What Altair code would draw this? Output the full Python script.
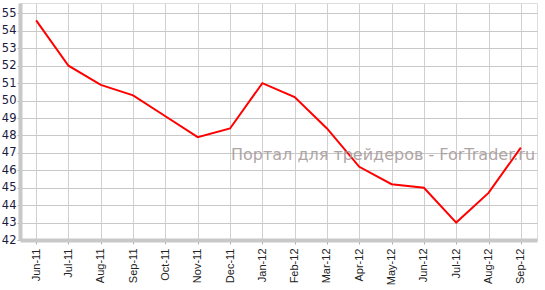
import altair as alt
import pandas as pd

months = ["Jun-11", "Jul-11", "Aug-11", "Sep-11", "Oct-11", "Nov-11", "Dec-11", "Jan-12",
          "Feb-12", "Mar-12", "Apr-12", "May-12", "Jun-12", "Jul-12", "Aug-12", "Sep-12"]
values = [54.6, 52.0, 50.9, 50.3, 49.1, 47.9, 48.4, 51.0,
          50.2, 48.4, 46.2, 45.2, 45.0, 43.0, 44.7, 47.3]
y_ticks = list(range(42, 56))
watermark = "Портал для трейдеров - ForTrader.ru"

df = pd.DataFrame({"month": months, "value": values})

x = alt.X("month:N", sort=months, title=None,
          scale=alt.Scale(type="point", padding=0.5),
          axis=alt.Axis(labelAngle=-90, labelFont="Liberation Sans", labelFontSize=11,
                        labelColor="#222222", domainColor="#c8c8c8", domainWidth=4,
                        tickColor="#b0b0b0", tickSize=4, gridColor="#d0d0d0", grid=True,
                        labelPadding=4))
y = alt.Y("value:Q", title=None,
          scale=alt.Scale(domain=[42, 55.6], nice=False, zero=False),
          axis=alt.Axis(values=y_ticks, labelFont="DejaVu Sans", labelFontSize=11.5,
                        labelColor="#1a1a40", domainColor="#c8c8c8", domainWidth=4,
                        tickColor="#b0b0b0", tickSize=3, gridColor="#c8c8c8", grid=True,
                        labelPadding=1))

line = alt.Chart(df).mark_line(color="#ff0000", strokeWidth=2).encode(x=x, y=y)

wm = alt.Chart(pd.DataFrame({"t": [watermark]})).mark_text(
    font="DejaVu Sans", fontSize=16, color="#a89c9c", opacity=0.9, align="center",
    baseline="middle").encode(text="t:N", x=alt.value(363), y=alt.value(152))

chart = (line + wm).properties(
    width=517, height=237,
    autosize=alt.AutoSizeParams(type="none"),
    padding={"left": 20, "top": 3, "right": 8, "bottom": 50},
).configure_view(stroke=None).configure(background="white")

chart.save("out.html", embed_options={"renderer": "svg", "actions": False})
